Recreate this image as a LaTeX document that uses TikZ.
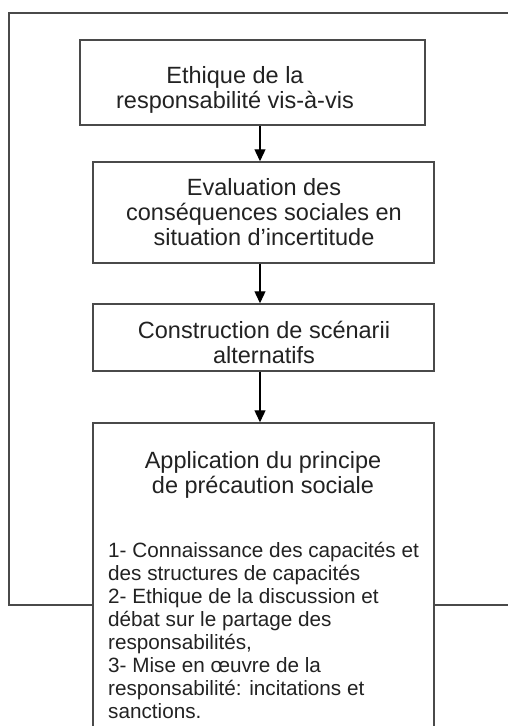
\documentclass[tikz,border=0pt]{standalone}
\usepackage{fontspec}
\setmainfont{Liberation Sans}
\usetikzlibrary{arrows.meta}
\definecolor{linegray}{HTML}{4A4A4A}
\definecolor{textgray}{HTML}{222222}
\tikzset{
  boxnode/.style={draw=linegray, line width=1.5pt, fill=white, inner sep=0pt},
  headtxt/.style={text=textgray, align=center, inner sep=0pt, anchor=base,
    font=\fontsize{23.5}{25}\selectfont},
  listtxt/.style={text=textgray, align=left, inner sep=0pt, anchor=base west,
    font=\fontsize{20.7}{23}\selectfont},
  arr/.style={draw=black, line width=1.3pt, -{Triangle[length=12pt,width=11pt]}},
  frame/.style={draw=linegray, line width=1.5pt}
}
\begin{document}
\begin{tikzpicture}[x=1pt,y=-1pt]
\useasboundingbox (0,0) rectangle (508,726);
\clip (0,0) rectangle (508,726);
\fill[white] (0,0) rectangle (508,726);
\coordinate (fa) at (9,13);
\coordinate (fb) at (530,605);
\draw[frame] (fa) rectangle (fb);
\node[boxnode, minimum width=345pt, minimum height=85pt] (b1) at (252.5,82.5) {};
\node[boxnode, minimum width=341pt, minimum height=101pt] (b2) at (263.5,212.5) {};
\node[boxnode, minimum width=341pt, minimum height=67pt] (b3) at (263.5,337.5) {};
\node[boxnode, minimum width=341pt, minimum height=330pt] (b4) at (263.5,588) {};
\node[headtxt] (t1) at (235,108) {Ethique de la\\responsabilité vis-à-vis};
\node[headtxt] (t2) at (264,245) {Evaluation des\\conséquences sociales en\\situation d’incertitude};
\node[headtxt] (t3) at (264,363) {Construction de scénarii\\alternatifs};
\node[headtxt] (t4) at (263,493) {Application du principe\\de précaution sociale};
\node[listtxt] (t5) at (108,718) {1- Connaissance des capacités et\\des structures de capacités\\2- Ethique de la discussion et\\débat sur le partage des\\responsabilités,\\3- Mise en œuvre de la\\responsabilité: incitations et\\sanctions.};
\draw[arr] ([xshift=7.5pt]b1.south) -- ([xshift=-3.5pt]b2.north);
\draw[arr] ([xshift=-3.5pt]b2.south) -- ([xshift=-3.5pt]b3.north);
\draw[arr] ([xshift=-3.5pt]b3.south) -- ([xshift=-3.5pt]b4.north);
\end{tikzpicture}
\end{document}
